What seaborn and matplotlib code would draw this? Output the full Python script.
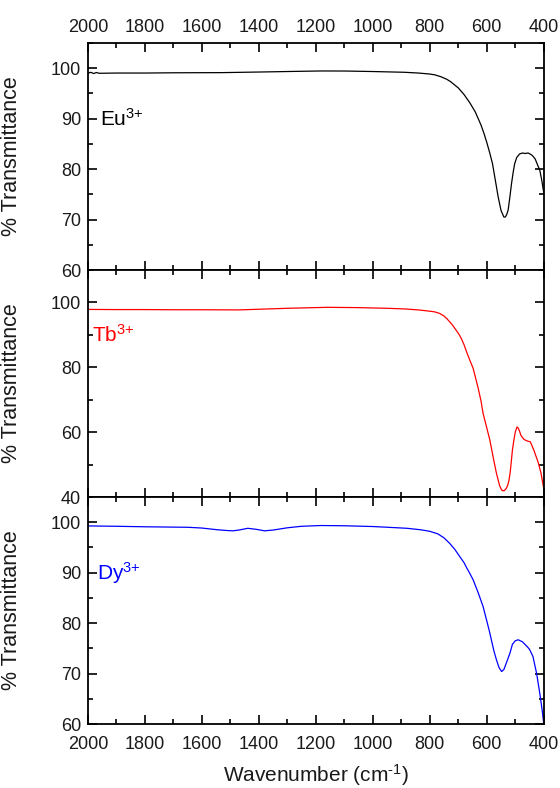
import matplotlib
matplotlib.use("Agg")
import matplotlib.pyplot as plt
from matplotlib.ticker import MultipleLocator
import seaborn as sns
import pandas as pd

sns.set_theme(style="ticks")
plt.rcParams['font.family'] = ['Liberation Sans', 'DejaVu Sans']
plt.rcParams['mathtext.fontset'] = 'custom'
plt.rcParams['mathtext.rm'] = 'Liberation Sans'
plt.rcParams['mathtext.it'] = 'Liberation Sans:italic'
plt.rcParams['mathtext.bf'] = 'Liberation Sans:bold'

# ---- data (wavenumber cm^-1, % transmittance) ----
eu_wn = [2000, 1990, 1980, 1970, 1960, 1900, 1800, 1700, 1600, 1533, 1400, 1300, 1182, 1100, 1000, 889,
         840, 800, 783, 760, 740, 726, 700, 680, 660, 640, 620, 610, 600, 590, 580, 570, 560, 550, 540, 535,
         530, 525, 520, 513, 507, 502, 495, 485, 475, 465, 455, 448, 440, 430, 420, 414, 407, 400]
eu_t = [99.0, 99.2, 98.95, 99.15, 99.0, 99.05, 99.05, 99.1, 99.12, 99.13, 99.25, 99.35, 99.46, 99.45, 99.35, 99.2,
        99.05, 98.85, 98.7, 98.3, 97.8, 97.3, 96.1, 94.8, 93.2, 91.3, 88.7, 87.1, 85.3, 83.3, 81.1, 77.8, 74.5, 71.8, 70.5, 70.5,
        71.0, 71.9, 74.0, 77.2, 79.5, 81.1, 82.3, 83.0, 83.2, 83.1, 83.2, 83.0, 82.7, 82.0, 80.6, 79.8, 77.8, 75.3]

tb_wn = [2000, 1900, 1800, 1700, 1600, 1473, 1400, 1300, 1158, 1050, 950, 889, 840, 800, 783, 765, 750,
         740, 730, 720, 712, 700, 690, 680, 671, 660, 648, 640, 630, 620, 613, 600, 589, 577, 566, 555, 548,
         543, 538, 532, 527, 522, 518, 515, 510, 505, 500, 494, 490, 485, 480, 470, 459, 447, 435, 420, 410, 400]
tb_t = [97.85, 97.8, 97.8, 97.75, 97.75, 97.7, 97.9, 98.2, 98.5, 98.4, 98.2, 98.0, 97.7, 97.3, 97.1, 96.6, 95.8,
        95.0, 94.0, 93.0, 92.0, 90.5, 89.0, 87.0, 84.8, 82.3, 79.7, 77.0, 73.5, 69.5, 65.8, 61.3, 57.5, 52.0, 47.3, 43.5, 42.2,
        41.9, 42.0, 42.6, 43.5, 45.2, 47.5, 50.0, 54.5, 57.5, 60.0, 61.6, 61.3, 60.3, 59.0, 57.8, 57.3, 57.0, 54.5, 50.8, 47.5, 42.6]

dy_wn = [2000, 1900, 1800, 1649, 1600, 1544, 1510, 1491, 1470, 1439, 1410, 1380, 1350, 1300, 1250, 1182,
         1100, 1000, 947, 880, 831, 800, 772, 750, 730, 712, 695, 680, 670, 660, 648, 630, 613, 598, 590, 584,
         575, 566, 557, 548, 540, 530, 519, 510, 500, 490, 475, 459, 450, 438, 425, 414, 405, 400]
dy_t = [99.27, 99.2, 99.1, 99.0, 98.85, 98.5, 98.35, 98.3, 98.45, 98.8, 98.6, 98.3, 98.45, 98.9, 99.2, 99.35,
        99.3, 99.15, 99.0, 98.8, 98.5, 98.2, 97.7, 96.9, 95.8, 94.6, 93.2, 92.0, 90.9, 89.9, 88.6, 86.0, 83.3, 80.0, 78.2, 76.7,
        74.5, 72.7, 71.2, 70.4, 70.8, 72.3, 74.0, 75.8, 76.5, 76.7, 76.3, 75.4, 74.8, 73.4, 70.0, 66.1, 62.5, 60.0]

labels = [r"Eu$^{\text{3+}}$", r"Tb$^{\text{3+}}$", r"Dy$^{\text{3+}}$"]
colors = ["black", "#FF0000", "#0000FF"]
ylims = [(60, 105), (40, 110), (60, 105)]
ymajor = [10, 20, 10]
yminor = [5, 10, 5]
label_x = [0.026, 0.009, 0.019]
xticks = [2000, 1800, 1600, 1400, 1200, 1000, 800, 600, 400]

series = [(eu_wn, eu_t), (tb_wn, tb_t), (dy_wn, dy_t)]

fig, axes = plt.subplots(3, 1, sharex=True, figsize=(5.6, 7.88), dpi=100)
fig.subplots_adjust(left=0.157, right=0.971, top=0.9454, bottom=0.0812, hspace=0)

for i, ax in enumerate(axes):
    wn, t = series[i]
    df = pd.DataFrame({"wn": wn, "T": t})
    sns.lineplot(data=df, x="wn", y="T", ax=ax, color=colors[i], lw=0.9,
                 estimator=None, sort=False)
    ax.set_xlim(2000, 400)
    ax.set_ylim(*ylims[i])
    ax.xaxis.set_major_locator(MultipleLocator(200))
    ax.xaxis.set_minor_locator(MultipleLocator(100))
    ax.yaxis.set_major_locator(MultipleLocator(ymajor[i]))
    ax.yaxis.set_minor_locator(MultipleLocator(yminor[i]))
    ax.tick_params(which="both", direction="in", top=True, right=True, bottom=True, left=True,
                   labelsize=13, width=1.2, colors="black", labelcolor="#1a1a1a")
    ax.tick_params(which="major", length=6.5, pad=5)
    ax.tick_params(which="minor", length=3.5)
    for s in ax.spines.values():
        s.set_linewidth(1.3)
        s.set_color("black")
    ax.set_ylabel("% Transmittance", fontsize=15.5, color="#1a1a1a")
    ax.yaxis.set_label_coords(-0.145, 0.5)
    ax.set_xlabel("")
    ax.text(label_x[i], 90, labels[i], transform=ax.get_yaxis_transform(),
            color=colors[i], fontsize=15, va="center", ha="left")
    if i == 0:
        ax.tick_params(labeltop=True, labelbottom=False)
    else:
        ax.tick_params(labeltop=False, labelbottom=(i == 2))

axes[2].tick_params(axis="x", which="major", pad=8.5)
axes[0].set_xticks(xticks)
axes[0].set_xticklabels([str(v) for v in xticks])
axes[2].set_xlabel(r"Wavenumber (cm$^{\text{-1}}$)", fontsize=15, color="#1a1a1a", labelpad=7)

fig.savefig("out.png", dpi=100)
